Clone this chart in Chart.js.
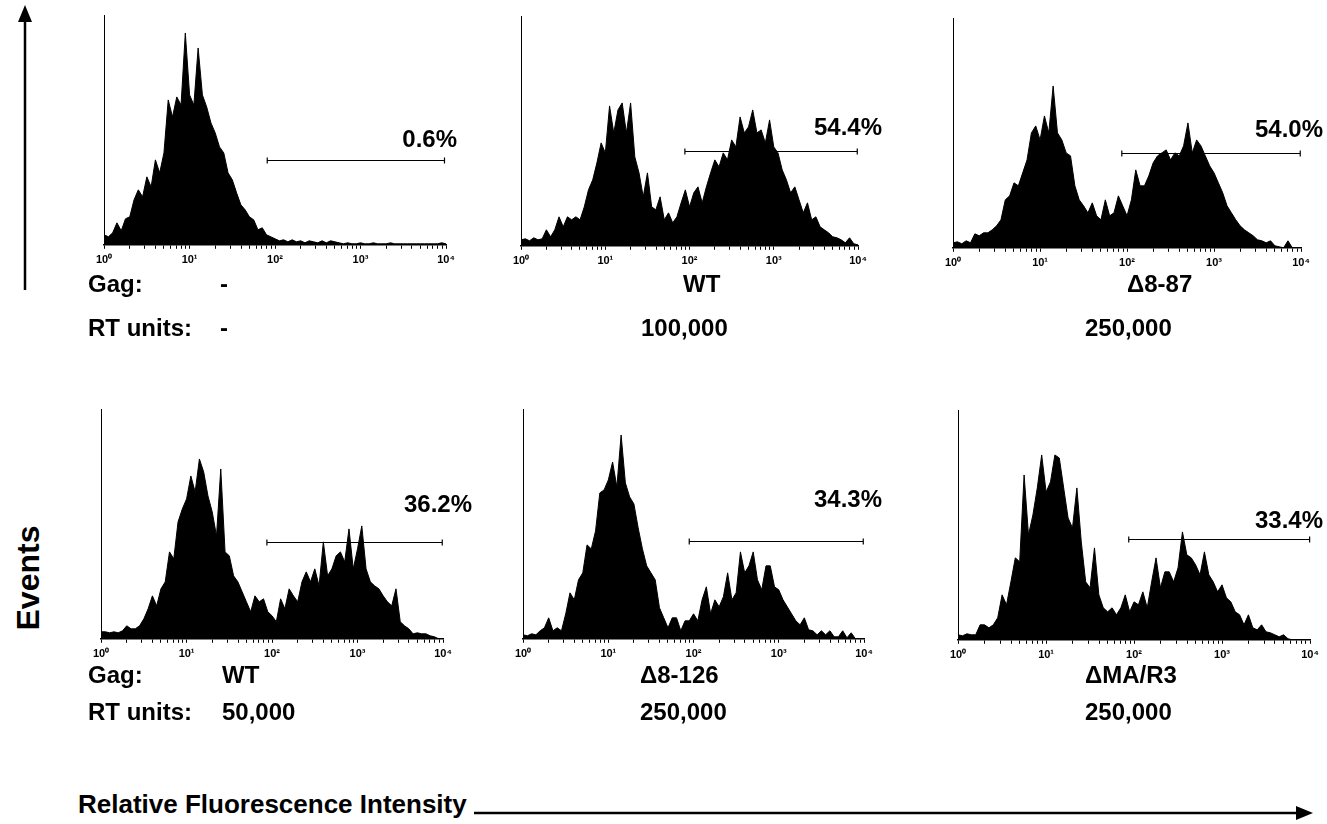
<!DOCTYPE html>
<html>
<head>
<meta charset="utf-8">
<script src="https://cdn.jsdelivr.net/npm/chart.js@4.4.1/dist/chart.umd.min.js"></script>
<style>
  body { margin: 0; background: #fff; }
  #fig { position: relative; width: 1327px; height: 824px; overflow: hidden;
         font-family: "Liberation Sans", Arial, sans-serif; font-weight: bold; color: #000; }
  #fig canvas { position: absolute; }
  .lbl { position: absolute; font-size: 24px; line-height: 24px; white-space: nowrap; }
  .title { position: absolute; font-size: 26px; line-height: 26px; white-space: nowrap; }
  .events { position: absolute; font-size: 32px; line-height: 32px; white-space: nowrap;
            transform: translate(-50%, -50%) rotate(-90deg); }
</style>
</head>
<body>
<div id="fig">
  <svg width="1327" height="824" style="position:absolute;left:0;top:0">
    <line x1="25" y1="290" x2="25" y2="18" stroke="#000" stroke-width="2.5"/>
    <polygon points="25,5 18,22 32,22" fill="#000"/>
    <line x1="474" y1="813" x2="1298" y2="813" stroke="#000" stroke-width="2.5"/>
    <polygon points="1313,813 1296,806 1296,820" fill="#000"/>
  </svg>
  <div class="events" style="left:28px; top:578px">Events</div>
  <div class="title" style="left:78px; top:791px">Relative Fluorescence Intensity</div>
</div>

<script>
// channel width on the log axis, in decades (0 .. 4 => 10^0 .. 10^4)
const channelStep = 0.05;

// counts per channel
const countsMock = [10,8,12,22,14,26,28,45,55,48,68,58,85,72,92,145,128,148,140,212,
  150,140,197,150,138,122,112,98,92,72,65,52,40,35,28,25,15,17,10,8,
  6,4,5,3,5,3,4,2,4,3,2,4,2,4,3,2,1,2,1,1,
  2,1,1,2,1,1,1,2,1,1,1,1,1,1,1,1,1,1,1,2,1];
const countsWT100k = [6,7,5,8,6,7,16,9,16,29,19,29,26,29,26,39,56,66,83,103,
  93,140,113,136,143,113,143,89,73,49,73,39,36,49,26,33,23,29,43,56,
  39,53,59,43,59,73,86,79,93,86,106,99,129,113,119,136,113,116,103,126,
  99,93,76,66,53,59,46,33,43,26,29,19,16,13,9,8,6,3,8,2,1];
const countsD887 = [5,6,4,7,5,14,12,15,15,18,22,28,48,52,65,62,75,88,115,122,
  108,132,115,162,115,108,95,92,62,48,42,35,45,32,28,48,32,35,52,42,
  32,48,78,62,62,72,85,92,95,98,88,95,92,102,125,95,108,102,92,82,
  75,65,55,42,35,28,22,18,15,12,8,7,5,7,2,1,0,7,0,0,0];
const countsWT50k = [7,7,6,7,6,8,13,10,10,13,20,30,43,33,50,57,87,80,117,130,
  140,163,147,180,167,143,127,103,170,87,83,63,57,47,37,27,43,37,40,27,
  23,17,40,30,50,43,37,57,67,57,70,53,97,63,70,83,87,77,110,70,
  90,113,70,57,53,50,43,37,33,50,17,13,10,5,6,5,5,3,2,0,0];
const countsD8126 = [4,3,5,4,8,11,21,8,11,8,25,46,39,59,66,94,90,108,146,149,
  159,177,152,204,156,142,135,111,90,73,66,59,31,21,11,21,21,8,18,18,
  25,18,39,52,25,39,32,42,66,39,46,87,66,73,87,59,49,73,73,52,
  49,39,32,25,18,14,21,9,8,4,8,4,8,2,2,8,1,6,0,0,0];
const countsDMAR3 = [5,4,6,5,5,15,15,12,15,22,45,35,58,82,78,165,105,125,152,185,
  148,158,185,182,152,122,112,152,98,58,52,92,45,32,28,32,25,32,45,28,
  38,35,48,32,58,82,52,68,68,58,72,108,85,82,75,65,88,65,58,48,
  55,42,38,28,25,15,25,12,10,15,8,7,5,3,5,1,0,0,0,0,0];

const histograms = [countsMock, countsWT100k, countsD887, countsWT50k, countsD8126, countsDMAR3];
const gagNames = ['-', 'WT', '\u03948-87', 'WT', '\u03948-126', '\u0394MA/R3'];
const rtUnits = ['-', '100,000', '250,000', '50,000', '250,000', '250,000'];
const percentPositive = ['0.6%', '54.4%', '54.0%', '36.2%', '34.3%', '33.4%'];
const gateFrom = [81, 88, 87, 87, 89, 87];     // fluorescence where the marker starts
const gateTo = [9600, 9800, 9800, 9800, 9800, 9900];
const gateLevel = [85, 95, 95, 97, 98, 101];   // marker height, in counts
const yMax = 230;

// layout: plot origin (left edge, x-axis y) and plot width, in page pixels
const panelBoxes = [
  { x: 101, y: 245, w: 345 }, { x: 518, y: 246, w: 340 }, { x: 950, y: 248, w: 351 },
  { x: 98, y: 639, w: 345 }, { x: 520, y: 639, w: 344 }, { x: 955, y: 640, w: 355 }
];
// percent label: offset right of the axis end and baseline height in counts
const pctPlace = [{ dx: 11, lv: 98 }, { dx: 24, lv: 111 }, { dx: 22, lv: 111 },
  { dx: 29, lv: 127 }, { dx: 18, lv: 132 }, { dx: 13, lv: 112 }];

const sup = ['\u2070', '\u00b9', '\u00b2', '\u00b3', '\u2074'];
const logTicks = [];
for (let d = 0; d < 4; d++) {
  for (let m = 1; m < 10; m++) logTicks.push(d + Math.log10(m));
}
logTicks.push(4);

const fig = document.getElementById('fig');
const fontFam = '"Liberation Sans", Arial, sans-serif';

const gatePlugin = {
  id: 'gate',
  afterDatasetsDraw(chart, args, opts) {
    const { ctx, scales: { x, y } } = chart;
    const x0 = x.getPixelForValue(Math.log10(opts.from));
    const x1 = x.getPixelForValue(Math.log10(opts.to));
    const yy = Math.round(y.getPixelForValue(opts.level)) + 0.5;
    ctx.save();
    ctx.strokeStyle = '#000';
    ctx.lineWidth = 1.2;
    ctx.beginPath();
    ctx.moveTo(x0, yy); ctx.lineTo(x1, yy);
    ctx.moveTo(x0, yy - 3); ctx.lineTo(x0, yy + 3);
    ctx.moveTo(x1, yy - 3); ctx.lineTo(x1, yy + 3);
    ctx.stroke();
    ctx.font = 'bold 24px ' + fontFam;
    ctx.fillStyle = '#000';
    ctx.textAlign = 'right';
    ctx.textBaseline = 'alphabetic';
    ctx.fillText(opts.text, x.right + opts.dx, y.getPixelForValue(opts.textLevel));
    ctx.restore();
  }
};

function makePanel(i) {
  const box = panelBoxes[i];
  const padL = 10, padR = 34, padT = 6, axisH = 27;
  const cv = document.createElement('canvas');
  cv.width = box.w + padL + padR;
  cv.height = padT + yMax + axisH;
  cv.style.left = (box.x - padL) + 'px';
  cv.style.top = (box.y - yMax - padT) + 'px';
  fig.appendChild(cv);

  const pts = histograms[i].map((v, k) => ({ x: k * channelStep, y: v }));

  new Chart(cv, {
    type: 'line',
    data: {
      datasets: [{
        data: pts,
        borderColor: '#000',
        backgroundColor: '#000',
        borderWidth: 1,
        pointRadius: 0,
        fill: 'origin',
        tension: 0
      }]
    },
    options: {
      responsive: false,
      animation: false,
      devicePixelRatio: 1,
      layout: { padding: { left: padL, right: padR, top: padT, bottom: 0 } },
      plugins: {
        legend: { display: false },
        tooltip: { enabled: false },
        gate: {
          from: gateFrom[i], to: gateTo[i], level: gateLevel[i],
          text: percentPositive[i], dx: pctPlace[i].dx, textLevel: pctPlace[i].lv
        }
      },
      scales: {
        x: {
          type: 'linear', min: 0, max: 4,
          afterBuildTicks: s => { s.ticks = logTicks.map(v => ({ value: v })); },
          ticks: {
            autoSkip: false, maxRotation: 0, padding: 5, color: '#000',
            font: { size: 11, weight: 'bold', family: fontFam },
            callback: v => Number.isInteger(v) ? '10' + sup[v] : ''
          },
          grid: { drawOnChartArea: false, tickLength: 4, color: '#000' },
          border: { color: '#000', width: 1.5 }
        },
        y: {
          min: 0, max: yMax,
          ticks: { display: false },
          grid: { display: false, drawTicks: false },
          border: { color: '#000', width: 1 }
        }
      }
    },
    plugins: [gatePlugin]
  });
}

for (let i = 0; i < histograms.length; i++) makePanel(i);

// row labels under each row of panels
function addLabel(text, left, top) {
  const d = document.createElement('div');
  d.className = 'lbl';
  d.style.left = left + 'px';
  d.style.top = top + 'px';
  d.textContent = text;
  fig.appendChild(d);
}
const colLeft = [[220, 683, 1127], [222, 640, 1085]];
const rtLeft = [[220, 641, 1085], [222, 640, 1085]];
const gagTop = [272, 663], rtTop = [316, 700];
for (let r = 0; r < 2; r++) {
  addLabel('Gag:', 88, gagTop[r]);
  addLabel('RT units:', 88, rtTop[r]);
  for (let c = 0; c < 3; c++) {
    addLabel(gagNames[r * 3 + c], colLeft[r][c], gagTop[r]);
    addLabel(rtUnits[r * 3 + c], rtLeft[r][c], rtTop[r]);
  }
}
</script>
</body>
</html>
